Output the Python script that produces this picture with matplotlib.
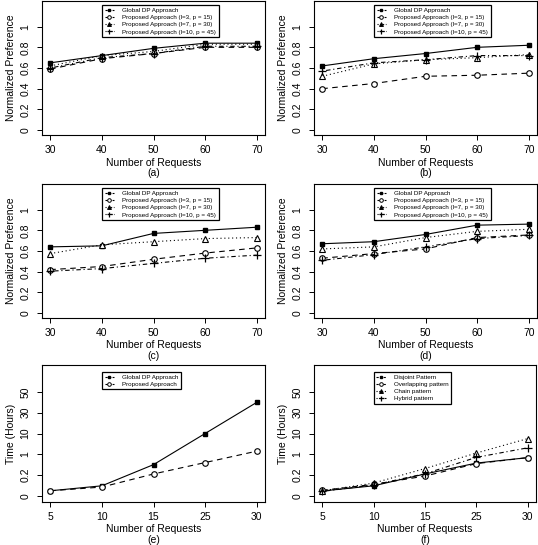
import matplotlib
matplotlib.use("Agg")
import matplotlib.pyplot as plt
from matplotlib.lines import Line2D
import numpy as np

plt.rcParams['font.family'] = ['Liberation Sans', 'DejaVu Sans']

# ---- data ----
requests_pref = [30, 40, 50, 60, 70]

a_global = [0.65, 0.72, 0.79, 0.84, 0.84]
a_l3 = [0.59, 0.69, 0.74, 0.80, 0.80]
a_l7 = [0.62, 0.72, 0.76, 0.83, 0.83]
a_l10 = [0.60, 0.70, 0.74, 0.81, 0.81]

b_global = [0.62, 0.69, 0.74, 0.80, 0.82]
b_l3 = [0.40, 0.45, 0.52, 0.53, 0.55]
b_l7 = [0.52, 0.64, 0.68, 0.70, 0.73]
b_l10 = [0.57, 0.65, 0.68, 0.72, 0.72]

c_global = [0.64, 0.65, 0.77, 0.80, 0.83]
c_l3 = [0.42, 0.45, 0.52, 0.58, 0.63]
c_l7 = [0.575, 0.66, 0.69, 0.72, 0.73]
c_l10 = [0.405, 0.43, 0.48, 0.53, 0.56]

d_global = [0.67, 0.69, 0.76, 0.85, 0.86]
d_l3 = [0.53, 0.575, 0.62, 0.73, 0.755]
d_l7 = [0.62, 0.64, 0.73, 0.79, 0.81]
d_l10 = [0.51, 0.565, 0.64, 0.72, 0.75]

requests_time = ['5', '10', '15', '25', '30']

e_global = [0.048, 0.096, 0.6, 10.0, 40.0]
e_proposed = [0.048, 0.084, 0.24, 0.68, 2.35]

f_disjoint = [0.046, 0.096, 0.24, 0.66, 0.87]
f_overlap = [0.052, 0.11, 0.19, 0.64, 0.87]
f_chain = [0.048, 0.122, 0.45, 1.54, 7.8]
f_hybrid = [0.042, 0.104, 0.25, 0.88, 3.8]

pref_labels = ['Global DP Approach',
               'Proposed Approach (l=3, p = 15)',
               'Proposed Approach (l=7, p = 30)',
               'Proposed Approach (l=10, p = 45)']
pattern_labels = ['Disjoint Pattern', 'Overlapping pattern',
                  'Chain pattern', 'Hybrid pattern']
time_ticks = [0, 0.2, 1, 10, 30, 50]

# ---- styles ----
LW = 0.8
styles = [
    dict(ls='-', marker='s', ms=2.2, mfc='black', mec='black'),
    dict(ls=(0, (5, 4)), marker='o', ms=4, mfc='white', mec='black', mew=0.8),
    dict(ls=(0, (1, 2.5)), marker='^', ms=4.5, mfc='white', mec='black', mew=0.8),
    dict(ls=(0, (1, 2.5, 4, 2.5)), marker='+', ms=5.5, mec='black', mew=0.9),
]
# legend: smaller symbols, first entry dashed as in the original
leg_styles = [
    dict(ls=(0, (2, 1.2)), marker='s', ms=1.6, mfc='black', mec='black'),
    dict(ls=(0, (2, 1.2)), marker='o', ms=2.6, mfc='white', mec='black', mew=0.7),
    dict(ls=(0, (1, 1.5)), marker='^', ms=2.8, mfc='black', mec='black', mew=0.7),
    dict(ls=(0, (1, 1.2, 2, 1.2)), marker='+', ms=3.6, mec='black', mew=0.9),
]

# piecewise axis used by the time plots (ticks equally spaced)
knots_val = [-1, 0, 0.2, 1, 10, 30, 50, 70, 90]
knots_pos = [-5, 0, 1, 2, 3, 4, 5, 6, 7]


def fwd(v):
    return np.interp(v, knots_val, knots_pos)


def inv(p):
    return np.interp(p, knots_pos, knots_val)


W, H = 538, 545
fig = plt.figure(figsize=(W / 100, H / 100), dpi=100)


def make_axes(left, top, right, bottom):
    return fig.add_axes([left / W, 1 - bottom / H, (right - left) / W, (bottom - top) / H])


def style_axes(ax, tag):
    ax.tick_params(direction='out', length=3.5, width=0.7, labelsize=7.5)
    ax.tick_params(axis='x', pad=4)
    ax.tick_params(axis='y', pad=5)
    for s in ax.spines.values():
        s.set_linewidth(0.8)
    ax.set_xlabel('Number of Requests\n(' + tag + ')', fontsize=7.5, labelpad=1.5, linespacing=1.05)
    for lab in ax.get_yticklabels():
        lab.set_rotation(90)
        lab.set_va('center')


def add_legend(ax, labels, n, top):
    handles = [Line2D([], [], color='black', lw=LW, **leg_styles[i]) for i in range(n)]
    leg = ax.legend(handles, labels, loc='upper left', bbox_to_anchor=(0.27, top),
                    fontsize=4.5, frameon=True, fancybox=False, edgecolor='black',
                    handlelength=1.5, handletextpad=1.3, labelspacing=0.3,
                    borderpad=0.4, borderaxespad=0)
    leg.get_frame().set_linewidth(0.9)
    leg.get_frame().set_alpha(1)


pref_sets = [
    ('a', (42, 1, 265, 135), [a_global, a_l3, a_l7, a_l10]),
    ('b', (314, 1, 537, 135), [b_global, b_l3, b_l7, b_l10]),
    ('c', (42, 184, 265, 318), [c_global, c_l3, c_l7, c_l10]),
    ('d', (314, 184, 537, 318), [d_global, d_l3, d_l7, d_l10]),
]

for tag, box, series in pref_sets:
    ax = make_axes(*box)
    for i, ys in enumerate(series):
        ax.plot(requests_pref, ys, color='black', lw=LW, **styles[i])
    ax.set_xlim(28.4, 71.6)
    ax.set_ylim(-0.048, 1.248)
    ax.set_xticks(requests_pref)
    ax.set_yticks([0, 0.2, 0.4, 0.6, 0.8, 1])
    ax.set_yticklabels(['0', '0.2', '0.4', '0.6', '0.8', '1'])
    ax.set_ylabel('Normalized Preference', fontsize=7.5, labelpad=3)
    style_axes(ax, tag)
    add_legend(ax, pref_labels, 4, 0.97)

time_sets = [
    ('e', (42, 365, 265, 502), [e_global, e_proposed], ['Global DP Approach', 'Proposed Approach']),
    ('f', (314, 365, 536, 502), [f_disjoint, f_overlap, f_chain, f_hybrid], pattern_labels),
]

for tag, box, series, labels in time_sets:
    ax = make_axes(*box)
    ax.set_yscale('function', functions=(fwd, inv))
    for i, ys in enumerate(series):
        ax.plot(requests_time, ys, color='black', lw=LW, **styles[i])
    ax.set_xlim(-0.16, 4.16)
    ax.set_ylim(inv(-0.3), inv(6.3))
    ax.set_yticks(time_ticks)
    ax.set_yticklabels([str(t) for t in time_ticks])
    ax.minorticks_off()
    ax.set_ylabel('Time (Hours)', fontsize=7.5, labelpad=3)
    style_axes(ax, tag)
    add_legend(ax, labels, len(labels), 0.95)

fig.savefig('out.png', dpi=100)
